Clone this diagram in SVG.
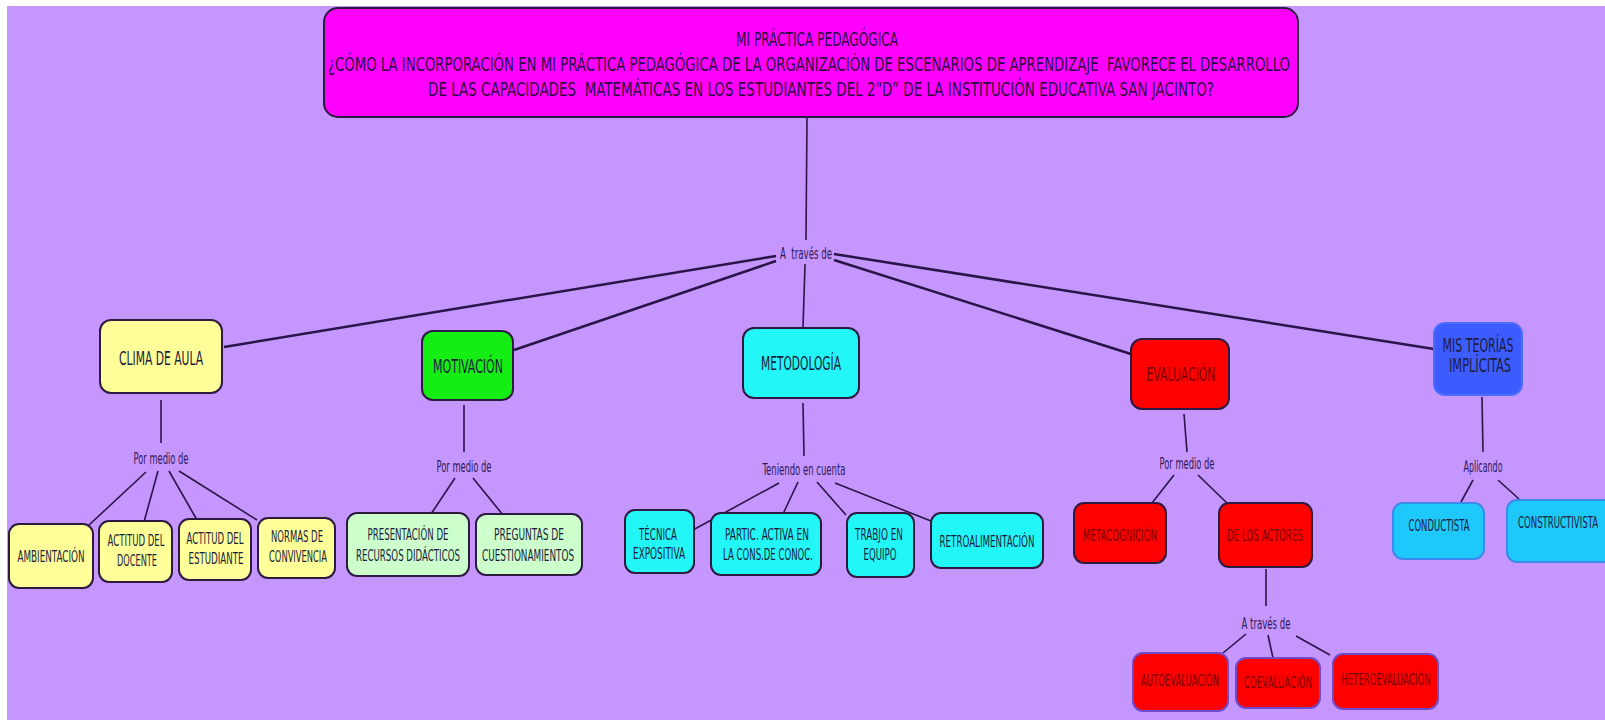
<svg xmlns="http://www.w3.org/2000/svg" width="1605" height="720" viewBox="0 0 1605 720">
<style>
text{font-family:"Liberation Sans Narrow","DejaVu Sans Condensed","DejaVu Sans",sans-serif;font-stretch:condensed;text-anchor:middle;fill:#1c1c3c}
.t{font-size:20px;fill:#2c0b3f}
.m{font-size:20px}
.l{font-size:15.5px}
.lab{font-size:15.5px;fill:#2e1a5a}
.r{fill:#7a0000}
.n{stroke:#2d1a40;stroke-width:2}
.y{fill:#ffff99}
.g{fill:#14ee14}
.lg{fill:#ccffcc}
.c{fill:#22f6f6}
.red{fill:#ff0000}
.redb{fill:#ff0000;stroke:#6e4bc8}
.bl{fill:#3d5cff;stroke:#4a6cff}
.sky{fill:#1ec8fa;stroke:#3a8af0}
.e{stroke:#2a1548;fill:none}
.e1{stroke-width:2.5}
.e2{stroke-width:1.6}
</style>
<rect x="0" y="0" width="1605" height="720" fill="#ffffff"/>
<rect x="7" y="6" width="1598" height="714" fill="#c596fe"/>
<g id="connectors" class="e">
  <line class="e2" x1="807" y1="117" x2="806" y2="240"/>
  <line class="e1" x1="776" y1="256" x2="224" y2="347"/>
  <line class="e1" x1="776" y1="261" x2="514" y2="350"/>
  <line class="e2" x1="805" y1="264" x2="803" y2="328"/>
  <line class="e1" x1="834" y1="260" x2="1131" y2="354"/>
  <line class="e1" x1="834" y1="254" x2="1434" y2="349"/>
  <line class="e2" x1="161" y1="400" x2="161" y2="443"/>
  <line class="e2" x1="146" y1="472" x2="89" y2="525"/>
  <line class="e2" x1="158" y1="471" x2="144" y2="522"/>
  <line class="e2" x1="169" y1="471" x2="197" y2="520"/>
  <line class="e2" x1="179" y1="471" x2="257" y2="520"/>
  <line class="e2" x1="464" y1="405" x2="464" y2="452"/>
  <line class="e2" x1="455" y1="478" x2="431" y2="514"/>
  <line class="e2" x1="473" y1="478" x2="503" y2="515"/>
  <line class="e2" x1="803" y1="403" x2="804" y2="456"/>
  <line class="e2" x1="779" y1="483" x2="693" y2="530"/>
  <line class="e2" x1="798" y1="482" x2="783" y2="514"/>
  <line class="e2" x1="817" y1="482" x2="846" y2="515"/>
  <line class="e2" x1="835" y1="483" x2="931" y2="521"/>
  <line class="e2" x1="1184" y1="414" x2="1187" y2="452"/>
  <line class="e2" x1="1174" y1="475" x2="1152" y2="503"/>
  <line class="e2" x1="1198" y1="475" x2="1227" y2="503"/>
  <line class="e2" x1="1266" y1="569" x2="1266" y2="606"/>
  <line class="e2" x1="1246" y1="634" x2="1223" y2="653"/>
  <line class="e2" x1="1268" y1="635" x2="1273" y2="658"/>
  <line class="e2" x1="1296" y1="636" x2="1330" y2="655"/>
  <line class="e2" x1="1482" y1="397" x2="1483" y2="452"/>
  <line class="e2" x1="1473" y1="480" x2="1461" y2="502"/>
  <line class="e2" x1="1498" y1="480" x2="1519" y2="499"/>
</g>
<g id="title">
  <rect class="n" x="324" y="8" width="974" height="109" rx="14" fill="#ff00ff"/>
  <text class="t" x="817" y="46" textLength="162" lengthAdjust="spacingAndGlyphs">MI PRÁCTICA PEDAGÓGICA</text>
  <text class="t" x="809" y="71" textLength="962" lengthAdjust="spacingAndGlyphs" xml:space="preserve">¿CÓMO LA INCORPORACIÓN EN MI PRÁCTICA PEDAGÓGICA DE LA ORGANIZACIÓN DE ESCENARIOS DE APRENDIZAJE  FAVORECE EL DESARROLLO</text>
  <text class="t" x="821" y="96" textLength="786" lengthAdjust="spacingAndGlyphs" xml:space="preserve">DE LAS CAPACIDADES  MATEMÁTICAS EN LOS ESTUDIANTES DEL 2“D” DE LA INSTITUCIÓN EDUCATIVA SAN JACINTO?</text>
</g>
<g id="label-a-traves">
  <text class="lab" x="806" y="259" textLength="52" lengthAdjust="spacingAndGlyphs" xml:space="preserve">A  través de</text>
</g>
<g id="clima">
  <rect class="n y" x="100" y="320" width="122" height="73" rx="11"/>
  <text class="m" x="161" y="365" textLength="84" lengthAdjust="spacingAndGlyphs">CLIMA DE AULA</text>
</g>
<g id="motivacion">
  <rect class="n g" x="422" y="331" width="91" height="69" rx="11"/>
  <text class="m" x="468" y="373" textLength="70" lengthAdjust="spacingAndGlyphs">MOTIVACIÓN</text>
</g>
<g id="metodologia">
  <rect class="n c" x="743" y="328" width="116" height="70" rx="11"/>
  <text class="m" x="801" y="370" textLength="80" lengthAdjust="spacingAndGlyphs">METODOLOGÍA</text>
</g>
<g id="evaluacion">
  <rect class="n red" x="1131" y="339" width="98" height="70" rx="11"/>
  <text class="m r" x="1181" y="381" textLength="69" lengthAdjust="spacingAndGlyphs">EVALUACIÓN</text>
</g>
<g id="teorias">
  <rect class="bl" stroke-width="2" x="1434" y="323" width="88" height="72" rx="11"/>
  <text class="m" x="1478" y="352" textLength="71" lengthAdjust="spacingAndGlyphs">MIS TEORÍAS</text>
  <text class="m" x="1480" y="372" textLength="62" lengthAdjust="spacingAndGlyphs">IMPLÍCITAS</text>
</g>
<g id="lab-clima"><text class="lab" x="161" y="464" textLength="55" lengthAdjust="spacingAndGlyphs">Por medio de</text></g>
<g id="lab-motiv"><text class="lab" x="464" y="472" textLength="55" lengthAdjust="spacingAndGlyphs">Por medio de</text></g>
<g id="lab-metod"><text class="lab" x="804" y="475" textLength="83" lengthAdjust="spacingAndGlyphs">Teniendo en cuenta</text></g>
<g id="lab-eval"><text class="lab" x="1187" y="469" textLength="55" lengthAdjust="spacingAndGlyphs">Por medio de</text></g>
<g id="lab-teorias"><text class="lab" x="1483" y="472" textLength="39" lengthAdjust="spacingAndGlyphs">Aplicando</text></g>
<g id="lab-actores"><text class="lab" x="1266" y="629" textLength="49" lengthAdjust="spacingAndGlyphs">A través de</text></g>
<g id="ambientacion">
  <rect class="n y" x="9" y="524" width="84" height="64" rx="10"/>
  <text class="l" x="51" y="562" textLength="67" lengthAdjust="spacingAndGlyphs">AMBIENTACIÓN</text>
</g>
<g id="actitud-docente">
  <rect class="n y" x="99" y="521" width="73" height="61" rx="10"/>
  <text class="l" x="136" y="546" textLength="57" lengthAdjust="spacingAndGlyphs">ACTITUD DEL</text>
  <text class="l" x="137" y="566" textLength="40" lengthAdjust="spacingAndGlyphs">DOCENTE</text>
</g>
<g id="actitud-estudiante">
  <rect class="n y" x="179" y="519" width="72" height="61" rx="10"/>
  <text class="l" x="215" y="544" textLength="57" lengthAdjust="spacingAndGlyphs">ACTITUD DEL</text>
  <text class="l" x="216" y="564" textLength="55" lengthAdjust="spacingAndGlyphs">ESTUDIANTE</text>
</g>
<g id="normas">
  <rect class="n y" x="258" y="518" width="77" height="60" rx="10"/>
  <text class="l" x="297" y="542" textLength="52" lengthAdjust="spacingAndGlyphs">NORMAS DE</text>
  <text class="l" x="298" y="562" textLength="58" lengthAdjust="spacingAndGlyphs">CONVIVENCIA</text>
</g>
<g id="presentacion">
  <rect class="n lg" x="347" y="513" width="122" height="63" rx="10"/>
  <text class="l" x="408" y="540" textLength="81" lengthAdjust="spacingAndGlyphs">PRESENTACIÓN DE</text>
  <text class="l" x="408" y="561" textLength="104" lengthAdjust="spacingAndGlyphs">RECURSOS DIDÁCTICOS</text>
</g>
<g id="preguntas">
  <rect class="n lg" x="476" y="514" width="106" height="61" rx="10"/>
  <text class="l" x="529" y="540" textLength="70" lengthAdjust="spacingAndGlyphs">PREGUNTAS DE</text>
  <text class="l" x="528" y="561" textLength="92" lengthAdjust="spacingAndGlyphs">CUESTIONAMIENTOS</text>
</g>
<g id="tecnica">
  <rect class="n c" x="625" y="510" width="69" height="63" rx="10"/>
  <text class="l" x="658" y="540" textLength="38" lengthAdjust="spacingAndGlyphs">TÉCNICA</text>
  <text class="l" x="659" y="559" textLength="52" lengthAdjust="spacingAndGlyphs">EXPOSITIVA</text>
</g>
<g id="partic">
  <rect class="n c" x="711" y="513" width="110" height="62" rx="10"/>
  <text class="l" x="767" y="540" textLength="84" lengthAdjust="spacingAndGlyphs">PARTIC. ACTIVA EN</text>
  <text class="l" x="768" y="560" textLength="90" lengthAdjust="spacingAndGlyphs">LA CONS.DE CONOC.</text>
</g>
<g id="trabajo">
  <rect class="n c" x="847" y="513" width="67" height="64" rx="10"/>
  <text class="l" x="879" y="540" textLength="48" lengthAdjust="spacingAndGlyphs">TRABJO EN</text>
  <text class="l" x="880" y="560" textLength="33" lengthAdjust="spacingAndGlyphs">EQUIPO</text>
</g>
<g id="retro">
  <rect class="n c" x="931" y="513" width="112" height="55" rx="10"/>
  <text class="l" x="987" y="547" textLength="95" lengthAdjust="spacingAndGlyphs">RETROALIMENTACIÓN</text>
</g>
<g id="metacognicion">
  <rect class="n red" x="1074" y="503" width="92" height="60" rx="10"/>
  <text class="l r" x="1120" y="541" textLength="74" lengthAdjust="spacingAndGlyphs">METACOGNICIÓN</text>
</g>
<g id="actores">
  <rect class="n red" x="1219" y="503" width="93" height="64" rx="10"/>
  <text class="l r" x="1265" y="541" textLength="76" lengthAdjust="spacingAndGlyphs">DE LOS ACTORES</text>
</g>
<g id="autoevaluacion">
  <rect class="redb" stroke-width="2" x="1133" y="653" width="95" height="58" rx="10"/>
  <text class="l r" x="1180" y="686" textLength="78" lengthAdjust="spacingAndGlyphs">AUTOEVALUACIÓN</text>
</g>
<g id="coevaluacion">
  <rect class="redb" stroke-width="2" x="1236" y="658" width="84" height="50" rx="10"/>
  <text class="l r" x="1278" y="688" textLength="68" lengthAdjust="spacingAndGlyphs">COEVALUACIÓN</text>
</g>
<g id="heteroevaluacion">
  <rect class="redb" stroke-width="2" x="1333" y="654" width="105" height="55" rx="10"/>
  <text class="l r" x="1386" y="685" textLength="89" lengthAdjust="spacingAndGlyphs">HETEROEVALUACIÓN</text>
</g>
<g id="conductista">
  <rect class="sky" stroke-width="2" x="1393" y="503" width="91" height="56" rx="10"/>
  <text class="l" x="1439" y="531" textLength="61" lengthAdjust="spacingAndGlyphs">CONDUCTISTA</text>
</g>
<g id="constructivista">
  <rect class="sky" stroke-width="2" x="1507" y="500" width="110" height="62" rx="10"/>
  <text class="l" x="1558" y="528" textLength="80" lengthAdjust="spacingAndGlyphs">CONSTRUCTIVISTA</text>
</g>
</svg>
